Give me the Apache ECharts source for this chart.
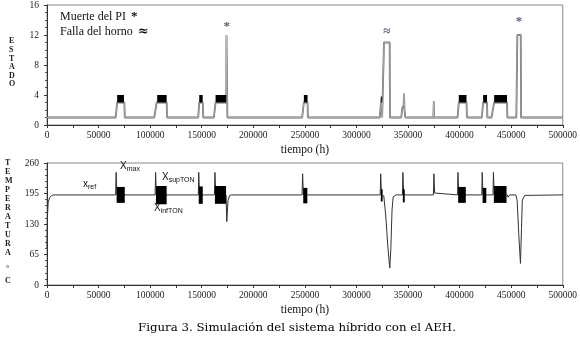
<!DOCTYPE html>
<html><head><meta charset="utf-8">
<script src="https://cdn.jsdelivr.net/npm/echarts@6/dist/echarts.min.js"></script>
<style>html,body{margin:0;padding:0;background:#fff}#c{width:580px;height:341px}</style>
</head><body><div id="c"></div>
<script>
// ---- data ----
const xTicks = [0, 50000, 100000, 150000, 200000, 250000, 300000, 350000, 400000, 450000, 500000];
const estadoTicks = [0, 4, 8, 12, 16];
const tempTicks = [0, 65, 130, 195, 260];

// Estado (state) trace [tiempo, estado]
const estado = [
  [0,1],[66600,1],[68000,3],[75000,3],[75400,1],
  [104000,1],[106300,3],[116000,3],[116400,1],
  [146600,1],[147600,3],[151000,3],[151500,1],
  [161800,1],[163400,3],[173800,3],[174000,12],[174600,12],[174900,1],
  [247400,1],[249000,3],[252600,3],[252900,1],
  [322600,1],[323400,2.4],[324300,3.8],[324900,1],[326400,1],[326700,11],[332200,11],[332500,1],
  [343500,1],[344300,2.2],[345700,2.6],[346100,4.2],[346500,2.2],[347300,1],
  [374600,1],[375000,3.2],[375300,1],
  [398000,1],[399200,3],[406700,3],[407100,1],
  [421500,1],[422800,3],[426600,3],[426900,1],
  [430900,1],[433500,3],[446000,3],[446300,1],
  [455000,1],[455500,6.5],[456000,12],[459300,12],[459600,1],
  [500000,1]
];
// Fast switching blocks between states 3 and 4: [start, end, low, high]
const estadoBlocks = [
  [68000,74600,3,4],[106800,116000,3,4],[147600,150900,3,4],[163400,173800,3,4],
  [249000,252600,3,4],[324000,324600,3,3.8],[399200,406700,3,4],[422800,426600,3,4],[433500,446000,3,4]
];
// Event marks [tiempo, estado, symbol]
const eventos = [[174300,13.1,'*'],[329400,12.4,'≈'],[457600,13.8,'*']];

// Temperature trace [tiempo, °C]
const temperatura = [
  [0,78],[500,150],[1200,176],[2500,186],[4500,191],[7000,192],
  [66500,192],[67000,240],[67800,192],[75600,192],
  [104800,192],[105300,240],[106000,192],[116200,192],
  [146700,192],[147100,240],[147900,192],[151500,192],
  [162300,192],[162800,240],[163600,192],[173600,192],[174300,135],[175500,180],[177000,191],[179000,192],
  [247300,192],[247800,237],[248600,192],[252800,192],
  [323000,192],[323500,237],[324300,192],[326500,190],[328500,145],[330500,80],[332300,36],[333300,75],[334500,160],[335600,188],[338500,192],
  [344600,192],[345000,240],[345800,192],[347600,192],
  [374600,192],[375100,237],[375800,196],[376600,192],
  [398000,192],[398400,240],[399200,192],[406800,192],
  [421500,192],[421900,240],[422700,192],[426800,192],
  [432400,192],[432800,240],[433600,192],[446200,192],[447000,187],[448500,192],
  [454500,192],[455800,180],[457300,110],[459000,46],[460000,120],[460800,181],[463200,191],[465000,192],
  [500000,192]
];
// Oscillation bands (on/off control) [start, end, low, high]
const tempBands = [
  [67500,75400,175,209],[105600,116000,172,211],[147100,151000,173,210],[162800,173600,173,211],
  [248400,252400,174,207],[323600,325400,178,204],[345000,346800,176,204],
  [398600,406000,175,209],[422300,425900,175,207],[433200,445500,175,211]
];

const serif = 'Liberation Serif';
function bandSeries(xi, yi, data, name){
  return {
    type: 'custom', name, xAxisIndex: xi, yAxisIndex: yi, data,
    encode: {x:[0,1], y:[2,3]}, silent: true, z: 3,
    renderItem: function(params, api){
      const p1 = api.coord([api.value(0), api.value(3)]);
      const p2 = api.coord([api.value(1), api.value(2)]);
      return {type:'rect', shape:{x:p1[0], y:p1[1], width:Math.max(1,p2[0]-p1[0]), height:p2[1]-p1[1]},
              style:{fill:'#000'}};
    }
  };
}
function xAxis(gi){
  return {
    type:'value', gridIndex: gi, min:0, max:500000, interval:50000,
    name:'tiempo (h)', nameLocation:'middle', nameGap: 19,
    nameTextStyle:{fontFamily:serif, fontSize:11.5, color:'#111'},
    axisLine:{show:true, lineStyle:{color:'#333', width:1}},
    axisTick:{show:true, length:3, lineStyle:{color:'#333'}},
    minorTick:{show:true, splitNumber:2, length:3, lineStyle:{color:'#333'}},
    axisLabel:{fontFamily:serif, fontSize:9.5, color:'#222', margin:5, formatter: v => String(v)},
    splitLine:{show:false}
  };
}
function yAxis(gi, max, interval, minorSplit){
  return {
    type:'value', gridIndex: gi, min:0, max, interval,
    axisLine:{show:true, lineStyle:{color:'#333', width:1}},
    axisTick:{show:true, length:3, lineStyle:{color:'#333'}},
    minorTick:{show:true, splitNumber:minorSplit, length:2, lineStyle:{color:'#555'}},
    axisLabel:{fontFamily:serif, fontSize:9.5, color:'#222', margin:8, formatter: v => String(v)},
    splitLine:{show:false}
  };
}
const rich = {b:{fontFamily:'Liberation Sans', fontSize:10, fill:'#111'}, s:{fontFamily:'Liberation Sans', fontSize:7, fill:'#111', padding:[6,0,0,0]}};

const chart = echarts.init(document.getElementById('c'), null, {renderer:'canvas'});
chart.setOption({
  animation:false,
  backgroundColor:'#fff',
  grid:[
    {left:47, right:17, top:5, height:120, show:true, borderColor:'#888', borderWidth:1},
    {left:47, right:17, top:163, height:122, show:true, borderColor:'#888', borderWidth:1}
  ],
  xAxis:[xAxis(0), xAxis(1)],
  yAxis:[yAxis(0,16,4,4), yAxis(1,260,65,5)],
  series:[
    {type:'line', xAxisIndex:0, yAxisIndex:0, data:estado, showSymbol:false, symbol:'none',
     lineStyle:{color:'#666', width:1.8}, z:2},
    {type:'line', xAxisIndex:0, yAxisIndex:0, data:estado, showSymbol:false, symbol:'none',
     lineStyle:{color:'#d0d0d0', width:0.6}, z:2},
    bandSeries(0,0,estadoBlocks,'bloques'),
    {type:'scatter', xAxisIndex:0, yAxisIndex:0, data:eventos, symbolSize:0, z:5,
     label:{show:true, position:'inside', formatter:p=>p.data[2], fontFamily:serif, fontSize:13, color:'#2a3550', fontWeight:'bold'}},
    {type:'line', xAxisIndex:1, yAxisIndex:1, data:temperatura, showSymbol:false, symbol:'none',
     lineStyle:{color:'#333', width:1}, z:2},
    bandSeries(1,1,tempBands,'oscilacion')
  ],
  graphic:[
    {type:'text', left:60, top:11, style:{text:'Muerte del PI', font:'12px "Liberation Serif"', fill:'#111'}},
    {type:'text', left:131, top:10, style:{text:'*', font:'bold 13px "Liberation Serif"', fill:'#111'}},
    {type:'text', left:60, top:26, style:{text:'Falla del horno', font:'12px "Liberation Serif"', fill:'#111'}},
    {type:'text', left:138, top:25, style:{text:'≈', font:'bold 13px "DejaVu Serif"', fill:'#111'}},
    {type:'text', left:9, top:37, style:{text:'E\nS\nT\nA\nD\nO', font:'bold 8px "Liberation Serif"', lineHeight:8.6, fill:'#222'}},
    {type:'text', left:5, top:158.5, style:{text:'T\nE\nM\nP\nE\nR\nA\nT\nU\nR\nA', font:'bold 8px "Liberation Serif"', lineHeight:9, fill:'#222'}},
    {type:'text', left:6, top:265, style:{text:'°', font:'bold 8px "Liberation Serif"', fill:'#222'}},
    {type:'text', left:5, top:277, style:{text:'C', font:'bold 8px "Liberation Serif"', fill:'#222'}},
    {type:'text', left:83, top:179, style:{rich, text:'{b|x}{s|ref}'}},
    {type:'text', left:120, top:161, style:{rich, text:'{b|X}{s|max}'}},
    {type:'text', left:162, top:172, style:{rich, text:'{b|X}{s|supTON}'}},
    {type:'text', left:154, top:203, style:{rich, text:'{b|X}{s|infTON}'}},
    {type:'text', left:138, top:322, style:{text:'Figura 3. Simulación del sistema híbrido con el AEH.', font:'11.8px "DejaVu Serif"', fill:'#000'}}
  ]
});
</script></body></html>
